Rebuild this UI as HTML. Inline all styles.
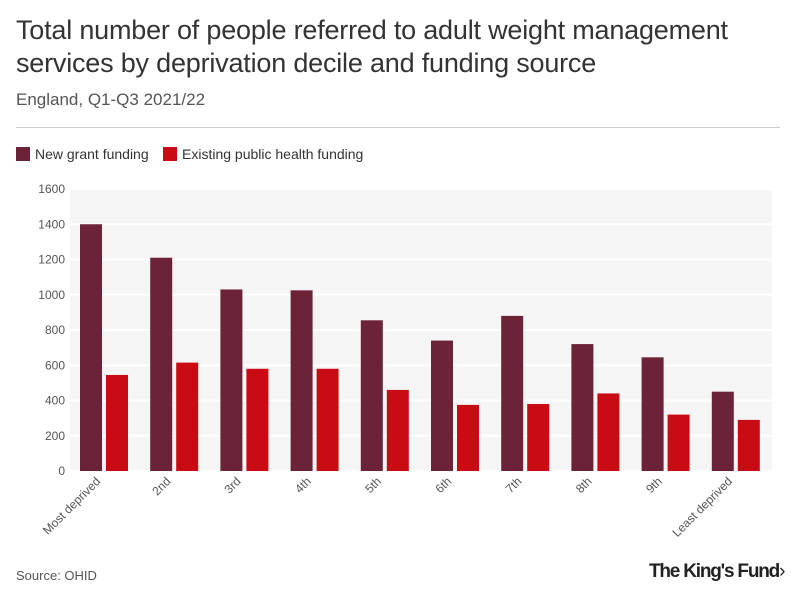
<!DOCTYPE html>
<html><head><meta charset="utf-8"><style>
body{margin:0;background:#fff;font-family:"Liberation Sans",sans-serif;}
#wrap{position:relative;width:796px;height:602px;overflow:hidden;}
.t{position:absolute;color:#333;}
</style></head><body>
<div id="wrap">
<div class="t" style="left:16px;top:14px;font-size:27px;line-height:33px;width:770px;letter-spacing:-0.2px">Total number of people referred to adult weight management services by deprivation decile and funding source</div>
<div class="t" style="left:16px;top:90px;font-size:17px;color:#555">England, Q1-Q3 2021/22</div>
<div style="position:absolute;left:16px;top:127px;width:764px;height:1px;background:#ccc"></div>
<div class="t" style="left:16px;top:146px;font-size:14px;"><span style="display:inline-block;width:14px;height:14px;background:#6c2237;vertical-align:-2px;margin-right:5px"></span>New grant funding</div>
<div class="t" style="left:163px;top:146px;font-size:14px;"><span style="display:inline-block;width:14px;height:14px;background:#c90c13;vertical-align:-2px;margin-right:5px"></span>Existing public health funding</div>
<svg id="chart" width="796" height="602" style="position:absolute;left:0;top:0"></svg>
<div class="t" style="left:16px;top:568px;font-size:13px;color:#555">Source: OHID</div>
<div class="t" style="left:649px;top:561px;font-size:19px;font-weight:bold;color:#222;letter-spacing:-1.2px">The King's Fund<span style="font-weight:normal">›</span></div>
</div>
<script>
const categories=["Most deprived","2nd","3rd","4th","5th","6th","7th","8th","9th","Least deprived"];
const newGrant=[1400,1210,1030,1025,855,740,880,720,645,450];
const existingPH=[545,615,580,580,460,375,380,440,320,290];
const yTicks=[0,200,400,600,800,1000,1200,1400,1600];
const svg=document.getElementById('chart');
const NS='http://www.w3.org/2000/svg';
const x0=70,x1=772,yTop=189,yBot=471,yMax=1600;
const y=v=>yBot-(v/yMax)*(yBot-yTop);
const step=(x1-x0)/categories.length;
const gx=i=>x0+i*step;
function mk(tag,attrs){const e=document.createElementNS(NS,tag);for(const k in attrs)e.setAttribute(k,attrs[k]);svg.appendChild(e);return e;}
const bg=mk('rect',{x:x0,y:yTop,width:x1-x0,height:yBot-yTop,fill:'#f5f5f5'});


yTicks.forEach(t=>{
  const l=mk('line',{x1:x0,x2:x1,y1:y(t),y2:y(t),stroke:'#fff','stroke-width':2});
  
  
  const tx=mk('text',{x:65,y:y(t)+4,'text-anchor':'end','font-size':12,fill:'#555','font-family':'Liberation Sans,sans-serif'});
  tx.textContent=t;
  
  
});
categories.forEach((c,i)=>{
  const b1=mk('rect',{x:gx(i)+10,y:y(newGrant[i]),width:22,height:yBot-y(newGrant[i]),fill:'#6c2237'});
  
  
  const b2=mk('rect',{x:gx(i)+36,y:y(existingPH[i]),width:22,height:yBot-y(existingPH[i]),fill:'#c90c13'});
  
  
  const cx=gx(i)+step/2-4;
  const tx=mk('text',{x:cx,y:482,'text-anchor':'end','font-size':12,fill:'#555','font-family':'Liberation Sans,sans-serif',transform:`rotate(-45 ${cx} 482)`});
  tx.textContent=c;
  
  
});
</script>
</body></html>
